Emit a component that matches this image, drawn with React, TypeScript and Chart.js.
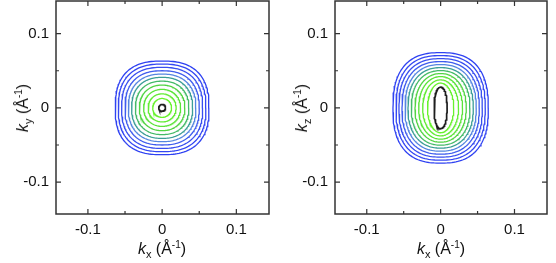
import React, { useEffect, useRef } from "react";
import { Chart, registerables } from "chart.js";

Chart.register(...registerables);

// ---- data ----
const majorTicks = [-0.1, 0, 0.1];
const minorTicks = [-0.05, 0.05];
const axisMin = -0.143;
const axisMax = 0.144;

// contour levels, outer -> inner (Å^-1)
const leftRadii = [0.0631, 0.059, 0.0546, 0.05, 0.0455, 0.0411, 0.036, 0.0307, 0.0249, 0.0189, 0.0127];
const leftCore = [0.0045, 0.0045];
const rightRx = [0.0645, 0.0604, 0.0564, 0.0523, 0.0482, 0.0442, 0.0397, 0.0347, 0.0297, 0.0243, 0.0178];
const rightRy = [0.0744, 0.0704, 0.0663, 0.0623, 0.0583, 0.0542, 0.0502, 0.0462, 0.0421, 0.0377, 0.0335];
const rightCore = [0.0088, 0.0279];
const shapeExponents = [2.55, 2.5, 2.45, 2.4, 2.35, 2.3, 2.25, 2.15, 2.1, 2.05, 2.0];
const coreExponent = 2.2;

const contourColors = [
  "#2f42f2", "#3447f2", "#384ef0", "#3f5cee", "#5586e0", "#3c9e96",
  "#44ba68", "#52d444", "#5be43a", "#62ec34", "#68f22e",
];
const coreColor = "#1e1e1e";

const FONT = "'Liberation Sans', Arial, Helvetica, sans-serif";

function superellipse(rx: number, ry: number, n: number) {
  const pts: { x: number; y: number }[] = [];
  const N = 160;
  for (let i = 0; i <= N; i++) {
    const t = (i / N) * Math.PI * 2;
    const c = Math.cos(t);
    const s = Math.sin(t);
    pts.push({
      x: rx * Math.sign(c) * Math.pow(Math.abs(c), 2 / n),
      y: ry * Math.sign(s) * Math.pow(Math.abs(s), 2 / n),
    });
  }
  return pts;
}

const framePlugin = {
  id: "frameTicks",
  afterDraw(chart: any) {
    const { ctx, chartArea } = chart;
    const { left, right, top, bottom } = chartArea;
    const xs = chart.scales.x;
    const ys = chart.scales.y;
    ctx.save();
    ctx.strokeStyle = "#333";
    ctx.lineWidth = 1.5;
    ctx.strokeRect(left, top, right - left, bottom - top);
    ctx.lineWidth = 1.2;
    const draw = (vals: number[], len: number) => {
      for (const v of vals) {
        const px = xs.getPixelForValue(v);
        ctx.beginPath();
        ctx.moveTo(px, bottom);
        ctx.lineTo(px, bottom - len);
        ctx.moveTo(px, top);
        ctx.lineTo(px, top + len);
        ctx.stroke();
        const py = ys.getPixelForValue(v);
        ctx.beginPath();
        ctx.moveTo(left, py);
        ctx.lineTo(left + len, py);
        ctx.moveTo(right, py);
        ctx.lineTo(right - len, py);
        ctx.stroke();
      }
    };
    draw(majorTicks, 5);
    draw(minorTicks, 3);
    ctx.restore();
  },
};

function fmt(v: number) {
  if (Math.abs(v) < 1e-9) return "0";
  return String(v);
}

function Panel({ rx, ry, core, leftWidth }: { rx: number[]; ry: number[]; core: number[]; leftWidth: number }) {
  const ref = useRef<HTMLCanvasElement>(null);
  useEffect(() => {
    if (!ref.current) return;
    const datasets: any[] = rx.map((r, i) => ({
      data: superellipse(r, ry[i], shapeExponents[i]),
      borderColor: contourColors[i],
      borderWidth: 1.3,
      showLine: true,
      pointRadius: 0,
      fill: false,
    }));
    datasets.push({
      data: superellipse(core[0], core[1], coreExponent),
      borderColor: coreColor,
      borderWidth: 1.7,
      showLine: true,
      pointRadius: 0,
      fill: false,
    });
    const tickFont = { family: FONT, size: 15 };
    const chart = new Chart(ref.current, {
      type: "scatter",
      data: { datasets },
      plugins: [framePlugin],
      options: {
        animation: false,
        responsive: false,
        devicePixelRatio: 1,
        layout: { padding: { left: 0, top: 1, right: 9, bottom: 0 } },
        plugins: { legend: { display: false }, tooltip: { enabled: false } },
        scales: {
          x: {
            type: "linear",
            min: axisMin,
            max: axisMax,
            grid: { display: false, drawTicks: false },
            border: { display: false },
            afterBuildTicks: (s: any) => {
              s.ticks = majorTicks.map((v) => ({ value: v }));
            },
            afterFit: (s: any) => {
              s.height = 49;
              s.paddingLeft = 0;
              s.paddingRight = 0;
            },
            ticks: {
              padding: 7,
              color: "#111",
              font: tickFont,
              maxRotation: 0,
              callback: (v: any) => fmt(Number(v)),
            },
          },
          y: {
            type: "linear",
            min: axisMin,
            max: axisMax,
            grid: { display: false, drawTicks: false },
            border: { display: false },
            afterBuildTicks: (s: any) => {
              s.ticks = majorTicks.map((v) => ({ value: v }));
            },
            afterFit: (s: any) => {
              s.width = leftWidth;
              s.paddingTop = 0;
              s.paddingBottom = 0;
            },
            ticks: {
              padding: 7,
              color: "#111",
              font: tickFont,
              callback: (v: any) => fmt(Number(v)),
            },
          },
        },
      } as any,
    });
    return () => chart.destroy();
  }, []);
  return <canvas ref={ref} width={278} height={263} style={{ width: 278, height: 263, display: "block" }} />;
}

const titleStyle: React.CSSProperties = {
  position: "absolute",
  fontFamily: FONT,
  fontSize: 16,
  color: "#111",
  whiteSpace: "nowrap",
  lineHeight: "16px",
};

function AxisTitle({ sub, x, y, rotate }: { sub: string; x: number; y: number; rotate?: boolean }) {
  return (
    <div
      style={{
        ...titleStyle,
        left: x,
        top: y,
        transform: `translate(-50%, -50%)${rotate ? " rotate(-90deg)" : ""}`,
      }}
    >
      <i>k</i>
      <sub style={{ fontSize: 11, verticalAlign: "-4px", lineHeight: 0 }}>{sub}</sub> (Å
      <sup style={{ fontSize: 10, verticalAlign: "6px", lineHeight: 0 }}>-1</sup>)
    </div>
  );
}

export default function App() {
  return (
    <div style={{ position: "fixed", left: 0, top: 0, width: 556, height: 263, background: "#fff" }}>
      <div style={{ position: "absolute", left: 0, top: 0 }}>
        <Panel rx={leftRadii} ry={leftRadii} core={leftCore} leftWidth={56} />
      </div>
      <div style={{ position: "absolute", left: 278, top: 0 }}>
        <Panel rx={rightRx} ry={rightRy} core={rightCore} leftWidth={57} />
      </div>
      <AxisTitle sub="y" x={23} y={108} rotate />
      <AxisTitle sub="x" x={162} y={249} />
      <AxisTitle sub="z" x={302} y={108} rotate />
      <AxisTitle sub="x" x={441} y={249} />
    </div>
  );
}
